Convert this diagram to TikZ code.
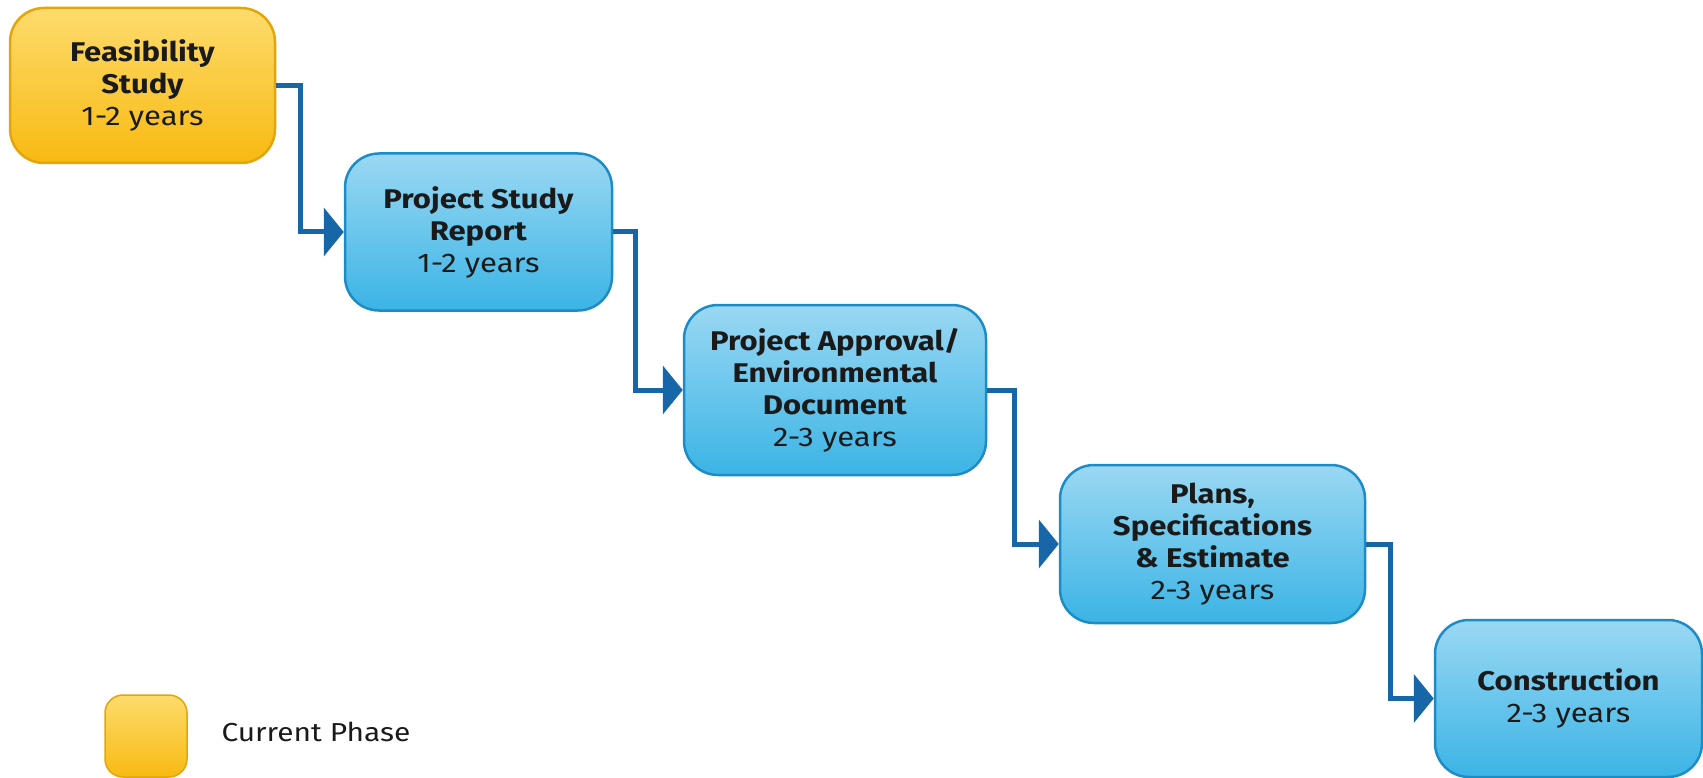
\documentclass[tikz,border=0pt]{standalone}
\usepackage{fontspec}
\setmainfont[FakeStretch=1.15]{Fira Sans}
\usetikzlibrary{arrows.meta}
\definecolor{bluebase}{HTML}{3BB4E5}
\definecolor{bluetop}{HTML}{9AD8F3}
\definecolor{blueedge}{HTML}{1D8CC6}
\definecolor{yelbase}{HTML}{F8BA12}
\definecolor{yeltop}{HTML}{FDDB6C}
\definecolor{yeledge}{HTML}{E2A50C}
\definecolor{arrowblue}{HTML}{1766A8}
\definecolor{txt}{HTML}{1A1A1A}
\tikzset{
  phase/.style={rounded corners=34pt, line width=2.5pt, align=center, text=txt,
    inner sep=0pt, font=\fontsize{27}{32}\selectfont},
  bluebox/.style={phase, draw=blueedge, top color=bluetop, bottom color=bluebase},
  yelbox/.style={phase, draw=yeledge, top color=yeltop, bottom color=yelbase},
  conn/.style={draw=arrowblue, line width=5pt, -{Triangle[length=20pt,width=48pt]}},
}
\begin{document}
\begin{tikzpicture}[x=1pt,y=-1pt]
\useasboundingbox (0,0) rectangle (1703,778);
\node[yelbox, minimum width=265pt, minimum height=155pt] (b1) at (142.5,85.5)
  {\textbf{Feasibility}\\\textbf{Study}\\1-2 years};
\node[bluebox, minimum width=267pt, minimum height=157pt] (b2) at (478.5,232)
  {\textbf{Project Study}\\\textbf{Report}\\1-2 years};
\node[bluebox, minimum width=302pt, minimum height=170pt] (b3) at (835,390)
  {\textbf{Project Approval/}\\\textbf{Environmental}\\\textbf{Document}\\2-3 years};
\node[bluebox, minimum width=305pt, minimum height=158pt] (b4) at (1212.5,544)
  {\textbf{Plans,}\\\textbf{Specifications}\\\textbf{\& Estimate}\\2-3 years};
\node[bluebox, minimum width=267pt, minimum height=157pt] (b5) at (1568.5,698.5)
  {\textbf{Construction}\\2-3 years};
\coordinate (c1) at (300,0);
\coordinate (c2) at (635,0);
\coordinate (c3) at (1014,0);
\coordinate (c4) at (1390,0);
\draw[conn] (b1.east) -- (b1.east -| c1) |- (b2.west);
\draw[conn] (b2.east) -- (b2.east -| c2) |- (b3.west);
\draw[conn] (b3.east) -- (b3.east -| c3) |- (b4.west);
\draw[conn] (b4.east) -- (b4.east -| c4) |- (b5.west);
\node[yelbox, rounded corners=18pt, line width=1.5pt, minimum width=82pt, minimum height=82pt] (leg) at (146,736) {};
\node[anchor=west, text=txt, font=\fontsize{26}{28}\selectfont] (legt) at (218,732) {Current Phase};
\end{tikzpicture}
\end{document}
